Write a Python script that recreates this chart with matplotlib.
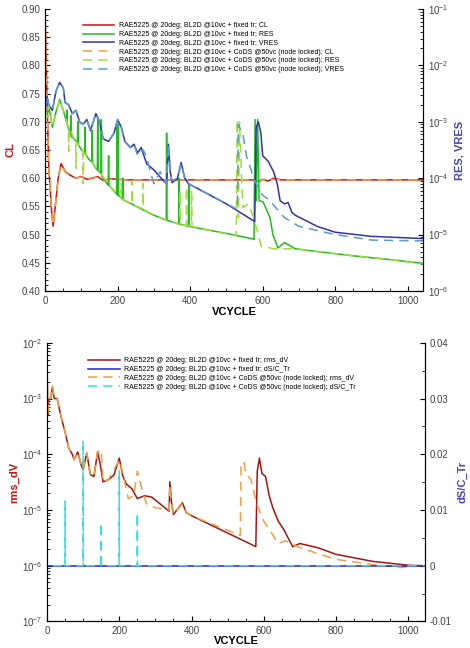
import numpy as np
import matplotlib
matplotlib.use("Agg")
import matplotlib.pyplot as plt
from matplotlib.ticker import MultipleLocator, LogLocator, NullFormatter

plt.rcParams['font.family'] = ['Liberation Sans', 'DejaVu Sans']

# =========================
# DATA - top panel (CL and residuals)
# =========================
cl_x = [0, 3, 10, 18, 22, 28, 36, 44, 55, 70, 85, 100, 115, 130, 145, 160, 180, 200,
        230, 260, 300, 400, 580, 590, 600, 615, 630, 650, 700, 1040]
cl_fixed = [0.89, 0.80, 0.62, 0.54, 0.515, 0.55, 0.60, 0.626, 0.612, 0.605, 0.600, 0.603,
            0.598, 0.600, 0.603, 0.596, 0.599, 0.598, 0.597, 0.597, 0.597, 0.597, 0.597,
            0.594, 0.598, 0.595, 0.600, 0.597, 0.597, 0.597]
cl_cods = [0.89, 0.80, 0.62, 0.54, 0.517, 0.55, 0.60, 0.624, 0.611, 0.604, 0.600, 0.602,
           0.598, 0.601, 0.602, 0.597, 0.598, 0.598, 0.597, 0.597, 0.597, 0.597, 0.597,
           0.596, 0.597, 0.596, 0.598, 0.597, 0.597, 0.597]

res_fixed_x = [0, 5, 10, 20, 30, 40, 50, 59, 60, 61, 70, 71, 72, 80, 89, 90, 91, 100, 109,
               110, 111, 120, 129, 130, 131, 140, 144, 145, 146, 150, 154, 155, 156, 160,
               174, 175, 176, 180, 198, 199, 200, 201, 202, 214, 215, 216, 220, 250, 300,
               334, 335, 336, 360, 368, 369, 370, 395, 396, 397, 450, 500, 575, 576, 579,
               582, 586, 590, 601, 610, 620, 628, 642, 660, 690, 750, 850, 950, 1040]
res_fixed = [1.6e-3, 1.2e-3, 2.0e-3, 8e-4, 1.5e-3, 2.5e-3, 1.6e-3, 1.0e-3, 1.6e-3, 9e-4,
             6e-4, 1.3e-3, 5.5e-4, 5e-4, 4.2e-4, 1.0e-3, 4e-4, 3.2e-4, 2.8e-4, 8e-4, 2.7e-4,
             2.2e-4, 1.9e-4, 7e-4, 1.9e-4, 1.5e-4, 1.4e-4, 1.2e-3, 1.4e-4, 1.3e-4, 1.2e-4,
             1.1e-3, 1.1e-4, 1.0e-4, 7.5e-5, 2.5e-4, 7.5e-5, 7e-5, 5.2e-5, 8e-4, 5e-5, 9e-4,
             5e-5, 4.2e-5, 1.0e-4, 4.1e-5, 4.0e-5, 3.2e-5, 2.2e-5, 1.8e-5, 6.3e-4, 1.8e-5,
             1.6e-5, 1.55e-5, 1.0e-4, 1.55e-5, 1.4e-5, 8e-5, 1.4e-5, 1.2e-5, 1.05e-5,
             8.3e-6, 8.2e-6, 1.1e-3, 4e-5, 1.1e-3, 4e-5, 3.8e-5, 2.8e-5, 2.0e-5, 1.0e-5,
             5.8e-6, 7.2e-6, 5.6e-6, 5.0e-6, 4.2e-6, 3.6e-6, 3.1e-6]

res_cods_x = [0, 5, 10, 20, 30, 40, 50, 60, 64, 65, 66, 80, 84, 85, 86, 100, 104, 105,
              106, 120, 150, 180, 200, 209, 210, 211, 220, 239, 240, 241, 260, 269, 270,
              271, 300, 371, 372, 373, 389, 390, 391, 403, 404, 405, 450, 526, 527, 530,
              533, 536, 545, 560, 575, 596, 610, 630, 690, 750, 850, 950, 1040]
res_cods = [1.6e-3, 1.2e-3, 2.0e-3, 8e-4, 1.5e-3, 2.5e-3, 1.6e-3, 1.0e-3, 8e-4, 3e-4,
            8e-4, 5e-4, 4.5e-4, 1.5e-4, 4.5e-4, 3.2e-4, 3.0e-4, 8e-5, 2.9e-4, 2.2e-4,
            1.3e-4, 7e-5, 5.2e-5, 4.5e-5, 8e-5, 4.5e-5, 4.0e-5, 3.4e-5, 9e-5, 3.4e-5,
            3.0e-5, 2.9e-5, 8e-5, 2.8e-5, 2.2e-5, 1.5e-5, 6e-5, 1.5e-5, 1.45e-5, 7e-5,
            1.45e-5, 1.4e-5, 6e-5, 1.4e-5, 1.2e-5, 9.5e-6, 9.5e-6, 1.1e-3, 2e-5, 1.0e-3,
            3e-5, 3.5e-5, 2.0e-5, 6.2e-6, 6.0e-6, 5.6e-6, 5.6e-6, 5.0e-6, 4.2e-6, 3.6e-6,
            3.0e-6]

vres_fixed_x = [0, 5, 10, 20, 30, 40, 50, 55, 65, 75, 85, 95, 105, 115, 125, 140, 150, 160,
                175, 190, 200, 210, 220, 235, 245, 255, 265, 280, 300, 320, 335, 340, 345,
                350, 365, 375, 385, 395, 500, 578, 582, 588, 595, 600, 615, 630, 640, 648,
                660, 670, 680, 690, 750, 800, 900, 1040]
vres_fixed = [1.6e-3, 2.8e-3, 2.0e-3, 1.6e-3, 3.5e-3, 5.0e-3, 4.0e-3, 2.2e-3, 2.0e-3,
              1.4e-3, 1.6e-3, 1.0e-3, 9e-4, 1.1e-3, 7e-4, 1.4e-3, 1.0e-3, 5e-4, 4.5e-4,
              6.3e-4, 1.1e-3, 8e-4, 4.5e-4, 3.5e-4, 4.0e-4, 2.8e-4, 3.5e-4, 1.8e-4,
              1.4e-4, 1.0e-4, 8e-5, 4e-4, 1.3e-4, 8.3e-5, 1.0e-4, 1.9e-4, 1.0e-4, 8e-5,
              3.5e-5, 1.7e-5, 8e-4, 1.0e-3, 6.3e-4, 2.5e-4, 2.0e-4, 1.3e-4, 8e-5, 4e-5,
              3.5e-5, 3.7e-5, 2.5e-5, 2.2e-5, 1.4e-5, 1.1e-5, 9.3e-6, 8.5e-6]

vres_cods_x = [0, 5, 10, 20, 30, 40, 50, 55, 65, 75, 85, 95, 105, 115, 125, 140, 150, 160,
               175, 190, 200, 210, 220, 235, 245, 255, 270, 280, 290, 300, 317, 335, 340,
               345, 350, 365, 375, 385, 395, 530, 533, 536, 545, 555, 565, 575, 590, 600,
               620, 640, 660, 700, 800, 900, 1040]
vres_cods = [1.6e-3, 2.8e-3, 2.0e-3, 1.6e-3, 3.5e-3, 5.0e-3, 4.0e-3, 2.2e-3, 2.0e-3,
             1.4e-3, 1.6e-3, 1.0e-3, 9e-4, 1.1e-3, 7e-4, 1.4e-3, 1.0e-3, 5e-4, 4.5e-4,
             6.3e-4, 1.1e-3, 8e-4, 4.5e-4, 3.5e-4, 4.0e-4, 2.5e-4, 3.2e-4, 2.4e-4,
             1.3e-4, 8e-5, 1.3e-4, 8e-5, 4e-4, 1.3e-4, 9e-5, 1.0e-4, 1.8e-4, 1.0e-4,
             8e-5, 2.8e-5, 9e-4, 8e-4, 6.3e-4, 2.5e-4, 1.6e-4, 1.0e-4, 6.3e-5, 5e-5,
             4e-5, 2.8e-5, 2.0e-5, 1.4e-5, 1.0e-5, 8e-6, 7.7e-6]

# =========================
# DATA - bottom panel (rms_dV and dS/C_Tr)
# =========================
dv_fixed_x = [0, 2, 5, 10, 15, 20, 28, 40, 50, 60, 70, 75, 85, 95, 100, 110, 120, 130,
              140, 148, 155, 170, 185, 200, 210, 220, 235, 250, 270, 290, 338, 340, 345,
              350, 375, 385, 400, 578, 582, 588, 595, 605, 615, 625, 640, 655, 680, 700,
              750, 800, 900, 1000, 1045]
dv_fixed = [6e-3, 5e-4, 1e-3, 1e-3, 1.6e-3, 1e-3, 1e-3, 4.4e-4, 2.5e-4, 1.3e-4, 1e-4,
            8e-5, 1.1e-4, 6.3e-5, 5.2e-5, 1.05e-4, 4.3e-5, 4e-5, 1.1e-4, 6.3e-5, 3.2e-5,
            3.5e-5, 4.2e-5, 8.5e-5, 4e-5, 2.9e-5, 2.4e-5, 1.6e-5, 1.8e-5, 1.7e-5,
            9.5e-6, 3.2e-5, 1.3e-5, 8.3e-6, 1.35e-5, 9e-6, 7.9e-6, 2.2e-6, 5e-5, 8.5e-5,
            4.5e-5, 4e-5, 1.8e-5, 1.1e-5, 6.3e-6, 4.5e-6, 2.2e-6, 2.5e-6, 2.1e-6, 1.6e-6,
            1.2e-6, 1.02e-6, 1.0e-6]

dv_cods_x = [0, 2, 5, 10, 15, 20, 28, 40, 50, 60, 70, 75, 85, 95, 100, 110, 120, 130,
             140, 150, 155, 170, 200, 210, 225, 240, 250, 262, 275, 300, 338, 340, 345,
             350, 375, 385, 400, 535, 537, 545, 550, 565, 580, 600, 620, 640, 660, 700,
             800, 900, 980, 1045]
dv_cods = [6e-3, 5e-4, 1e-3, 1e-3, 1.7e-3, 1e-3, 1e-3, 4.4e-4, 2.5e-4, 1.3e-4, 1e-4,
           8e-5, 1.1e-4, 6.3e-5, 5.2e-5, 1.05e-4, 4.3e-5, 4e-5, 1.1e-4, 1.2e-4, 3.2e-5,
           3.5e-5, 7.9e-5, 4.5e-5, 1.6e-5, 1.8e-5, 5e-5, 2.5e-5, 1.3e-5, 1.1e-5, 1e-5,
           2.8e-5, 1.3e-5, 8.3e-6, 1.3e-5, 9e-6, 7.9e-6, 3.5e-6, 6.3e-5, 7.4e-5, 4.5e-5,
           3.5e-5, 1.3e-5, 6.3e-6, 4e-6, 2.5e-6, 2.8e-6, 2.1e-6, 1.3e-6, 1.05e-6, 0.93e-6,
           1.0e-6]

tr_fixed_x = [0, 1045]
tr_fixed = [0.0, 0.0]

tr_cods_x = [0, 1, 49.5, 50, 50.5, 99.5, 100, 100.5, 149.5, 150, 150.5, 199.5, 200,
             200.5, 249.5, 250, 250.5, 1045]
tr_cods = [-0.01, 0, 0, 0.0116, 0, 0, 0.0225, 0, 0, 0.0077, 0, 0, 0.0171, 0, 0,
           0.0095, 0, 0]

lab = "RAE5225 @ 20deg; BL2D @10vc + "

# =========================
# FIGURE
# =========================
fig = plt.figure(figsize=(4.7, 6.48), dpi=100)
tick_kw = dict(direction='in', labelsize=7, labelcolor='#444444')

# ---- top panel
ax1 = fig.add_axes([0.096, 0.551, 0.804, 0.435])
ax1b = ax1.twinx()
h = []
h += ax1.plot(cl_x, cl_fixed, color='#cc1111', lw=1.1, label=lab + "fixed tr; CL")
h += ax1b.plot(res_fixed_x, res_fixed, color='#22bb22', lw=1.1, label=lab + "fixed tr; RES")
h += ax1b.plot(vres_fixed_x, vres_fixed, color='#3333aa', lw=1.1, label=lab + "fixed tr; VRES")
h += ax1.plot(cl_x, cl_cods, color='#f0a040', lw=1.1, ls=(0, (6, 4)),
              label=lab + "CoDS @50vc (node locked); CL")
h += ax1b.plot(res_cods_x, res_cods, color='#9fdc3c', lw=1.1, ls=(0, (6, 4)),
               label=lab + "CoDS @50vc (node locked); RES")
h += ax1b.plot(vres_cods_x, vres_cods, color='#5b9bd5', lw=1.1, ls=(0, (6, 4)),
               label=lab + "CoDS @50vc (node locked); VRES")

ax1.set_xlim(0, 1042)
ax1.set_ylim(0.4, 0.9)
ax1.yaxis.set_major_locator(MultipleLocator(0.05))
ax1.yaxis.set_minor_locator(MultipleLocator(0.01))
ax1.xaxis.set_major_locator(MultipleLocator(200))
ax1.xaxis.set_minor_locator(MultipleLocator(50))
ax1b.set_yscale('log')
ax1b.set_ylim(1e-6, 1e-1)
ax1b.yaxis.set_major_locator(LogLocator(base=10, numticks=10))
ax1b.yaxis.set_minor_locator(LogLocator(base=10, subs=np.arange(2, 10), numticks=10))
ax1b.yaxis.set_minor_formatter(NullFormatter())
ax1.tick_params(which='both', **tick_kw)
ax1b.tick_params(which='both', **tick_kw)
for a in (ax1, ax1b):
    a.spines['top'].set_visible(False)
ax1.set_ylabel("CL", color='#cc1111', fontsize=8, fontweight='bold', labelpad=4)
ax1b.set_ylabel("RES, VRES", color='#4444bb', fontsize=8, fontweight='bold', labelpad=4)
ax1.set_xlabel("VCYCLE", fontsize=8, fontweight='bold', labelpad=1)
ax1.legend(handles=h, loc='upper left', bbox_to_anchor=(0.09, 0.965), frameon=False,
           fontsize=5, handlelength=4.5, handletextpad=0.7, labelspacing=0.25,
           borderpad=0)

# ---- bottom panel
ax2 = fig.add_axes([0.1, 0.041, 0.804, 0.43])
ax2b = ax2.twinx()
h2 = []
h2 += ax2.plot(dv_fixed_x, dv_fixed, color='#a01515', lw=1.1, label=lab + "fixed tr; rms_dV")
h2 += ax2b.plot(tr_fixed_x, tr_fixed, color='#2222cc', lw=1.1, label=lab + "fixed tr; dS/C_Tr")
h2 += ax2.plot(dv_cods_x, dv_cods, color='#f0a040', lw=1.1, ls=(0, (6, 4)),
               label=lab + "CoDS @50vc (node locked); rms_dV")
h2 += ax2b.plot(tr_cods_x, tr_cods, color='#33dddd', lw=1.1, ls=(0, (6, 4)),
                label=lab + "CoDS @50vc (node locked); dS/C_Tr")
ax2.set_yscale('log')
ax2.set_ylim(1e-7, 1e-2)
ax2.set_xlim(0, 1046)
ax2.yaxis.set_major_locator(LogLocator(base=10, numticks=10))
ax2.yaxis.set_minor_locator(LogLocator(base=10, subs=np.arange(2, 10), numticks=10))
ax2.yaxis.set_minor_formatter(NullFormatter())
ax2.xaxis.set_major_locator(MultipleLocator(200))
ax2.xaxis.set_minor_locator(MultipleLocator(50))
ax2b.set_ylim(-0.01, 0.04)
ax2b.yaxis.set_major_locator(MultipleLocator(0.01))
ax2b.yaxis.set_minor_locator(MultipleLocator(0.005))
ax2b.yaxis.set_major_formatter(plt.FuncFormatter(lambda v, p: "0" if abs(v) < 1e-9 else f"{v:.2f}"))
ax2.tick_params(which='both', **tick_kw)
ax2b.tick_params(which='both', **tick_kw)
for a in (ax2, ax2b):
    a.spines['top'].set_visible(False)
ax2.set_ylabel("rms_dV", color='#cc1111', fontsize=8, fontweight='bold', labelpad=2)
ax2b.set_ylabel("dS/C_Tr", color='#4444bb', fontsize=8, fontweight='bold', labelpad=4)
ax2.set_xlabel("VCYCLE", fontsize=8, fontweight='bold', labelpad=0)
ax2.legend(handles=h2, loc='upper left', bbox_to_anchor=(0.1, 0.96), frameon=False,
           fontsize=5, handlelength=4.5, handletextpad=0.7, labelspacing=0.25,
           borderpad=0)

fig.savefig("out.png", dpi=100)
